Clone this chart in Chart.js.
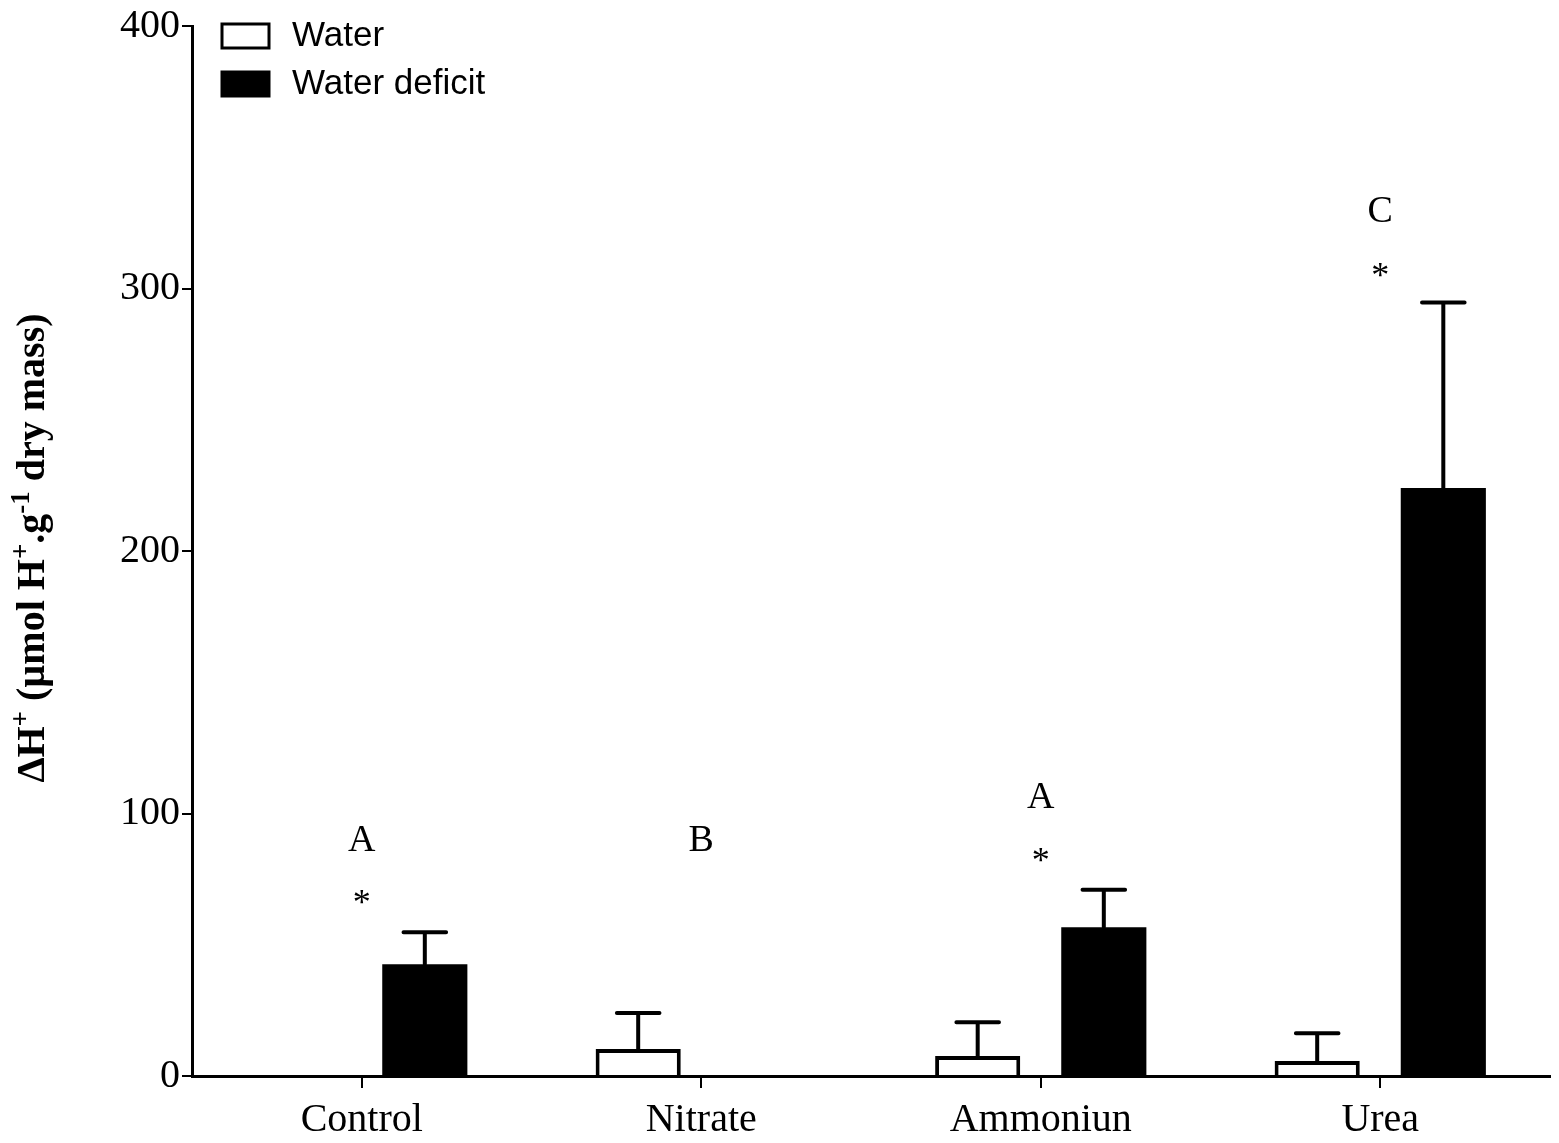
<!DOCTYPE html>
<html>
<head>
  <title>Delta H+ by nitrogen source</title>
  <script src="https://cdn.jsdelivr.net/npm/chart.js"></script>
  <style>
    body { margin: 0; background: #fff; }
    canvas { display: block; }
  </style>
</head>
<body>
  <canvas id="chart" width="1559" height="1143"></canvas>

  <script>
    // values
    const categories = ['Control', 'Nitrate', 'Ammoniun', 'Urea'];
    const waterValues = [0, 10.3, 7.6, 5.7];
    const waterErrors = [0, 13.7, 12.9, 10.6];
    const deficitValues = [42.6, 0, 56.7, 224];
    const deficitErrors = [12.2, 0, 14.3, 70.7];
    const yTicks = [0, 100, 200, 300, 400];

    // significance letters and stars, placed at y values
    const groupLetters = ['A', 'B', 'A', 'C'];
    const letterY = [89.7, 89.7, 106, 329];
    const starY = [68, null, 84, 307];

    const serif = "'Liberation Serif', 'Times New Roman', serif";
    const sans = "'Liberation Sans', Arial, sans-serif";

    // upward-only error bars
    const errorBars = {
      id: 'errorBars',
      afterDatasetsDraw(chart) {
        const ctx = chart.ctx;
        const y = chart.scales.y;
        const errs = [waterErrors, deficitErrors];
        ctx.save();
        ctx.strokeStyle = '#000';
        ctx.lineWidth = 4;
        ctx.lineCap = 'round';
        chart.data.datasets.forEach((ds, di) => {
          chart.getDatasetMeta(di).data.forEach((bar, i) => {
            const err = errs[di][i];
            if (!err) return;
            const top = y.getPixelForValue(ds.data[i] + err);
            const half = bar.width / 4;
            ctx.beginPath();
            ctx.moveTo(bar.x, bar.y);
            ctx.lineTo(bar.x, top);
            ctx.moveTo(bar.x - half, top);
            ctx.lineTo(bar.x + half, top);
            ctx.stroke();
          });
        });
        ctx.restore();
      }
    };

    // letters and asterisks above each group
    const annotations = {
      id: 'annotations',
      afterDatasetsDraw(chart) {
        const ctx = chart.ctx;
        const x = chart.scales.x, y = chart.scales.y;
        ctx.save();
        ctx.fillStyle = '#000';
        ctx.textAlign = 'center';
        ctx.textBaseline = 'middle';
        categories.forEach((c, i) => {
          const cx = x.getPixelForValue(i);
          ctx.font = '38px ' + serif;
          ctx.fillText(groupLetters[i], cx, y.getPixelForValue(letterY[i]));
          if (starY[i] != null) {
            ctx.font = '36px ' + serif;
            ctx.fillText('*', cx, y.getPixelForValue(starY[i]) + 7);
          }
        });
        ctx.restore();
      }
    };

    // legend in the top-left corner of the plot
    const boxLegend = {
      id: 'boxLegend',
      afterDraw(chart) {
        const ctx = chart.ctx;
        ctx.save();
        ctx.font = '35px ' + sans;
        ctx.textBaseline = 'middle';
        chart.data.datasets.forEach((ds, i) => {
          const cy = 36 + i * 48;
          ctx.fillStyle = ds.backgroundColor;
          ctx.fillRect(222, cy - 12, 47, 24);
          ctx.strokeStyle = '#000';
          ctx.lineWidth = 3;
          ctx.strokeRect(222, cy - 12, 47, 24);
          ctx.fillStyle = '#000';
          ctx.fillText(ds.label, 292, cy);
        });
        ctx.restore();
      }
    };

    // rotated y title with superscripts
    const yTitle = {
      id: 'yTitle',
      afterDraw(chart) {
        const ctx = chart.ctx;
        const parts = [
          ['\u0394H', false], ['+', true], [' (\u00b5mol H', false], ['+', true],
          ['.g', false], ['-1', true], [' dry mass)', false]
        ];
        const big = 'bold 40px ' + serif, small = 'bold 27px ' + serif;
        ctx.save();
        let total = 0;
        parts.forEach(p => { ctx.font = p[1] ? small : big; total += ctx.measureText(p[0]).width; });
        ctx.translate(44, 548);
        ctx.rotate(-Math.PI / 2);
        ctx.fillStyle = '#000';
        ctx.textBaseline = 'alphabetic';
        let px = -total / 2;
        parts.forEach(p => {
          ctx.font = p[1] ? small : big;
          ctx.fillText(p[0], px, p[1] ? -15 : 0);
          px += ctx.measureText(p[0]).width;
        });
        ctx.restore();
      }
    };

    new Chart(document.getElementById('chart'), {
      type: 'bar',
      data: {
        labels: categories,
        datasets: [
          { label: 'Water', data: waterValues, backgroundColor: '#ffffff', borderColor: '#000', borderWidth: 4 },
          { label: 'Water deficit', data: deficitValues, backgroundColor: '#000000', borderColor: '#000', borderWidth: 0 }
        ]
      },
      options: {
        responsive: false,
        animation: false,
        categoryPercentage: 0.743,
        barPercentage: 0.675,
        layout: { padding: { top: 24, right: 9, left: 0, bottom: 0 } },
        plugins: {
          legend: { display: false },
          tooltip: { enabled: false }
        },
        scales: {
          x: {
            offset: true,
            grid: { offset: false, drawOnChartArea: false, color: '#000', lineWidth: 2, tickLength: 12 },
            border: { color: '#000', width: 3 },
            ticks: { color: '#000', font: { family: serif, size: 40 }, padding: 8 },
            afterFit(s) { s.height = 1143 - 1076; }
          },
          y: {
            min: 0,
            max: 400,
            afterBuildTicks(s) { s.ticks = yTicks.map(v => ({ value: v })); },
            grid: { drawOnChartArea: false, color: '#000', lineWidth: 2, tickLength: 10 },
            border: { color: '#000', width: 3 },
            ticks: { color: '#000', font: { family: serif, size: 40 }, padding: 2 },
            afterFit(s) { s.width = 192; }
          }
        }
      },
      plugins: [errorBars, annotations, boxLegend, yTitle]
    });
  </script>
</body>
</html>
